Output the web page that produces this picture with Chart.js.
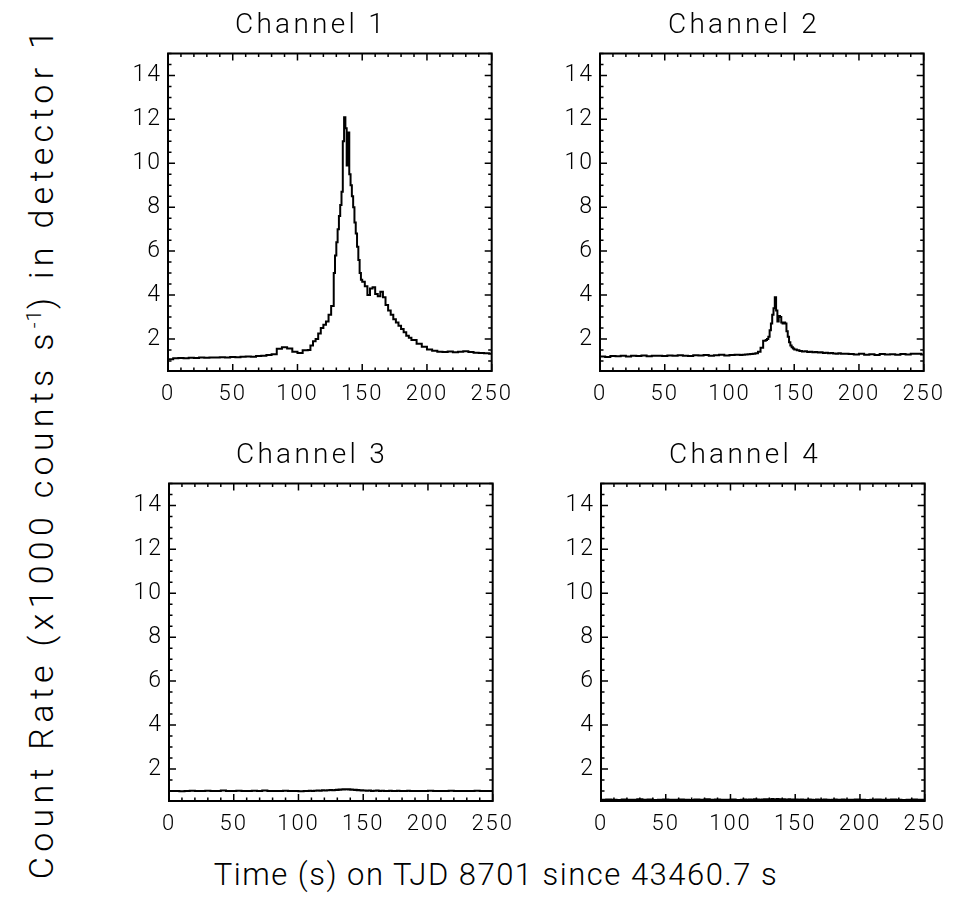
<!DOCTYPE html>
<html>
<head>
<meta charset="utf-8">
<script src="https://cdn.jsdelivr.net/npm/chart.js@4.4.1/dist/chart.umd.min.js"></script>
<style>
  body { margin: 0; background: #fff; width: 954px; height: 921px; position: relative; overflow: hidden; font-family: Roboto, "DejaVu Sans", sans-serif; font-weight: 300; color: #000; }
  canvas { position: absolute; }
  .ptitle { position: absolute; transform: translate(-50%, -50%); white-space: nowrap; font-size: 28px; letter-spacing: 3.3px; }
  .ytitle { position: absolute; left: 41px; top: 452px; transform: translate(-50%, -50%) rotate(-90deg); white-space: nowrap; font-size: 34px; letter-spacing: 5.3px; }
  .ytitle sup { font-size: 60%; letter-spacing: 1px; }
  .xtitle { position: absolute; left: 496px; top: 874px; transform: translate(-50%, -50%); white-space: nowrap; font-size: 31px; letter-spacing: 1.5px; }
</style>
</head>
<body>
<canvas id="c1" width="420" height="420" style="left:100px;top:0px"></canvas>
<canvas id="c2" width="420" height="420" style="left:532px;top:0px"></canvas>
<canvas id="c3" width="420" height="420" style="left:101px;top:430px"></canvas>
<canvas id="c4" width="420" height="420" style="left:533px;top:430px"></canvas>
<div class="ptitle" style="left:311px;top:23px">Channel 1</div>
<div class="ptitle" style="left:744px;top:23px">Channel 2</div>
<div class="ptitle" style="left:312px;top:453px">Channel 3</div>
<div class="ptitle" style="left:745px;top:453px">Channel 4</div>
<div class="ytitle">Count Rate (x1000 counts s<sup>-1</sup>) in detector 1</div>
<div class="xtitle">Time (s) on TJD 8701 since 43460.7 s</div>
<script>
// time bins (s), finer around the burst
let times = [0,4,8,12,16,20,24,28,32,36,40,44,48,52,56,60,64,68,72,76,80,84,88,92,96,100,104,108,
    110,112,114,116,118,120,122,124,126,
    128,129,130,131,132,133,134,135,136,137,138,139,140,141,142,143,144,145,146,147,148,149,
    150,152,154,156,158,160,162,164,166,168,170,172,174,176,178,180,182,184,186,188,
    192,196,200,204,208,212,216,220,224,228,232,236,240,244,248,250];

let channel1 = [1.08,1.12,1.13,1.12,1.14,1.13,1.15,1.14,1.16,1.15,1.17,1.16,1.18,1.17,1.19,1.20,1.19,1.22,1.24,1.27,1.30,1.55,1.62,1.56,1.42,1.36,1.48,1.50,
    1.7,1.9,2.0,2.25,2.5,2.65,2.8,3.1,3.5,
    5.0,5.8,6.4,7.0,7.6,8.1,8.7,11.0,12.1,11.6,9.9,11.4,9.5,9.0,8.5,8.0,7.3,6.8,6.2,5.6,5.0,4.7,
    4.6,4.4,4.0,4.3,4.35,4.05,3.95,4.15,3.9,3.55,3.3,3.1,2.9,2.75,2.6,2.45,2.3,2.15,2.05,1.95,
    1.78,1.65,1.52,1.46,1.42,1.41,1.43,1.39,1.42,1.44,1.40,1.37,1.36,1.35,1.33,1.32];

let channel2 = [1.20,1.18,1.22,1.21,1.24,1.20,1.23,1.22,1.25,1.21,1.23,1.24,1.22,1.25,1.23,1.26,1.24,1.22,1.26,1.25,1.27,1.24,1.26,1.28,1.25,1.27,1.28,1.27,
    1.28,1.29,1.30,1.31,1.33,1.35,1.42,1.6,1.92,
    1.95,2.0,2.1,2.4,2.7,3.1,3.4,3.9,3.3,2.8,3.05,3.0,2.75,2.7,2.75,2.7,2.35,2.1,1.85,1.7,1.62,1.56,
    1.52,1.48,1.45,1.43,1.44,1.41,1.42,1.39,1.40,1.38,1.39,1.36,1.37,1.35,1.36,1.34,1.33,1.35,1.32,1.33,
    1.31,1.29,1.32,1.28,1.30,1.27,1.31,1.29,1.30,1.28,1.31,1.29,1.32,1.33,1.29,1.29];

let channel3 = [0.99,1.00,0.98,1.00,1.01,0.99,1.00,1.01,0.99,1.00,1.02,1.00,0.99,1.01,1.00,0.99,1.01,1.00,1.02,1.00,0.99,1.00,1.01,0.99,1.00,0.98,1.00,1.01,
    1.00,1.01,1.02,1.01,1.03,1.02,1.03,1.04,1.03,
    1.04,1.05,1.04,1.06,1.05,1.06,1.07,1.06,1.08,1.07,1.06,1.07,1.05,1.06,1.05,1.04,1.05,1.03,1.04,1.03,1.02,1.03,
    1.02,1.01,1.02,1.00,1.01,1.02,1.00,1.01,0.99,1.00,1.01,0.99,1.00,1.01,1.00,0.99,1.00,1.01,0.99,1.00,
    1.00,0.99,1.01,1.00,0.99,1.00,1.01,0.99,1.00,1.00,0.99,1.01,1.00,0.99,1.00,1.00];

let channel4 = [0.60,0.61,0.60,0.59,0.61,0.60,0.60,0.62,0.60,0.61,0.59,0.60,0.61,0.60,0.60,0.61,0.60,0.59,0.61,0.60,0.62,0.60,0.61,0.60,0.60,0.61,0.59,0.60,
    0.61,0.60,0.61,0.60,0.62,0.61,0.60,0.61,0.62,
    0.61,0.62,0.61,0.62,0.63,0.62,0.61,0.62,0.63,0.62,0.61,0.62,0.61,0.62,0.61,0.60,0.61,0.62,0.61,0.60,0.61,0.60,
    0.61,0.60,0.61,0.60,0.60,0.61,0.60,0.59,0.61,0.60,0.60,0.61,0.60,0.59,0.60,0.61,0.60,0.60,0.61,0.60,
    0.60,0.61,0.60,0.59,0.60,0.61,0.60,0.60,0.61,0.60,0.59,0.60,0.61,0.60,0.60,0.60];

let xTicks = [0, 50, 100, 150, 200, 250];
let yTicks = [2, 4, 6, 8, 10, 12, 14];

const FONT = "Roboto, 'DejaVu Sans', sans-serif";

// wider spacing on the tick labels
const spacedText = {
    id: "spacedText",
    beforeDraw(chart){
        chart.ctx.letterSpacing = "2px";
    }
};

// box frame with inward ticks on all four sides, like the IDL plots
const frameTicks = {
    id: "frameTicks",
    afterDraw(chart){
        let ctx = chart.ctx;
        let a = chart.chartArea;
        let xs = chart.scales.x, ys = chart.scales.y;
        ctx.save();
        ctx.strokeStyle = "#000";
        ctx.lineWidth = 1.5;
        ctx.beginPath();
        for(let v = xs.min; v <= xs.max + 0.001; v += 10){
            let px = xs.getPixelForValue(v);
            let len = (v % 50 === 0) ? 7 : 3.5;
            ctx.moveTo(px, a.bottom); ctx.lineTo(px, a.bottom - len);
            ctx.moveTo(px, a.top); ctx.lineTo(px, a.top + len);
        }
        for(let v = Math.ceil(ys.min * 2) / 2; v <= ys.max + 0.001; v += 0.5){
            let py = ys.getPixelForValue(v);
            let len = (v % 2 === 0) ? 7 : 3.5;
            ctx.moveTo(a.left, py); ctx.lineTo(a.left + len, py);
            ctx.moveTo(a.right, py); ctx.lineTo(a.right - len, py);
        }
        ctx.stroke();
        ctx.lineWidth = 2;
        ctx.strokeRect(a.left, a.top, a.right - a.left, a.bottom - a.top);
        ctx.restore();
    }
};

function makeChart(id, values, rightPad){
    let points = times.map((t, i) => ({x: t, y: values[i]}));
    return new Chart(document.getElementById(id), {
        type: "line",
        data: {
            datasets: [{
                data: points,
                borderColor: "#000",
                borderWidth: 2,
                pointRadius: 0,
                stepped: true,
                fill: false
            }]
        },
        options: {
            responsive: false,
            animation: false,
            layout: { padding: { left: 0, right: rightPad, top: 53.5, bottom: 0 } },
            plugins: {
                legend: { display: false },
                tooltip: { enabled: false }
            },
            scales: {
                x: {
                    type: "linear",
                    min: 0,
                    max: 250,
                    afterBuildTicks: s => { s.ticks = xTicks.map(v => ({value: v})); },
                    afterFit: s => { s.height = 49; },
                    grid: { display: false, drawTicks: false },
                    border: { display: false },
                    ticks: { color: "#000", padding: 10, maxRotation: 0, font: { family: FONT, size: 22, weight: 300 } }
                },
                y: {
                    min: 0.54,
                    max: 15,
                    afterBuildTicks: s => { s.ticks = yTicks.map(v => ({value: v})); },
                    afterFit: s => { s.width = 68; },
                    grid: { display: false, drawTicks: false },
                    border: { display: false },
                    ticks: { color: "#000", padding: 6, font: { family: FONT, size: 23, weight: 300 } }
                }
            }
        },
        plugins: [spacedText, frameTicks]
    });
}

makeChart("c1", channel1, 28);
makeChart("c2", channel2, 24);
makeChart("c3", channel3, 28);
makeChart("c4", channel4, 24);
</script>
</body>
</html>
